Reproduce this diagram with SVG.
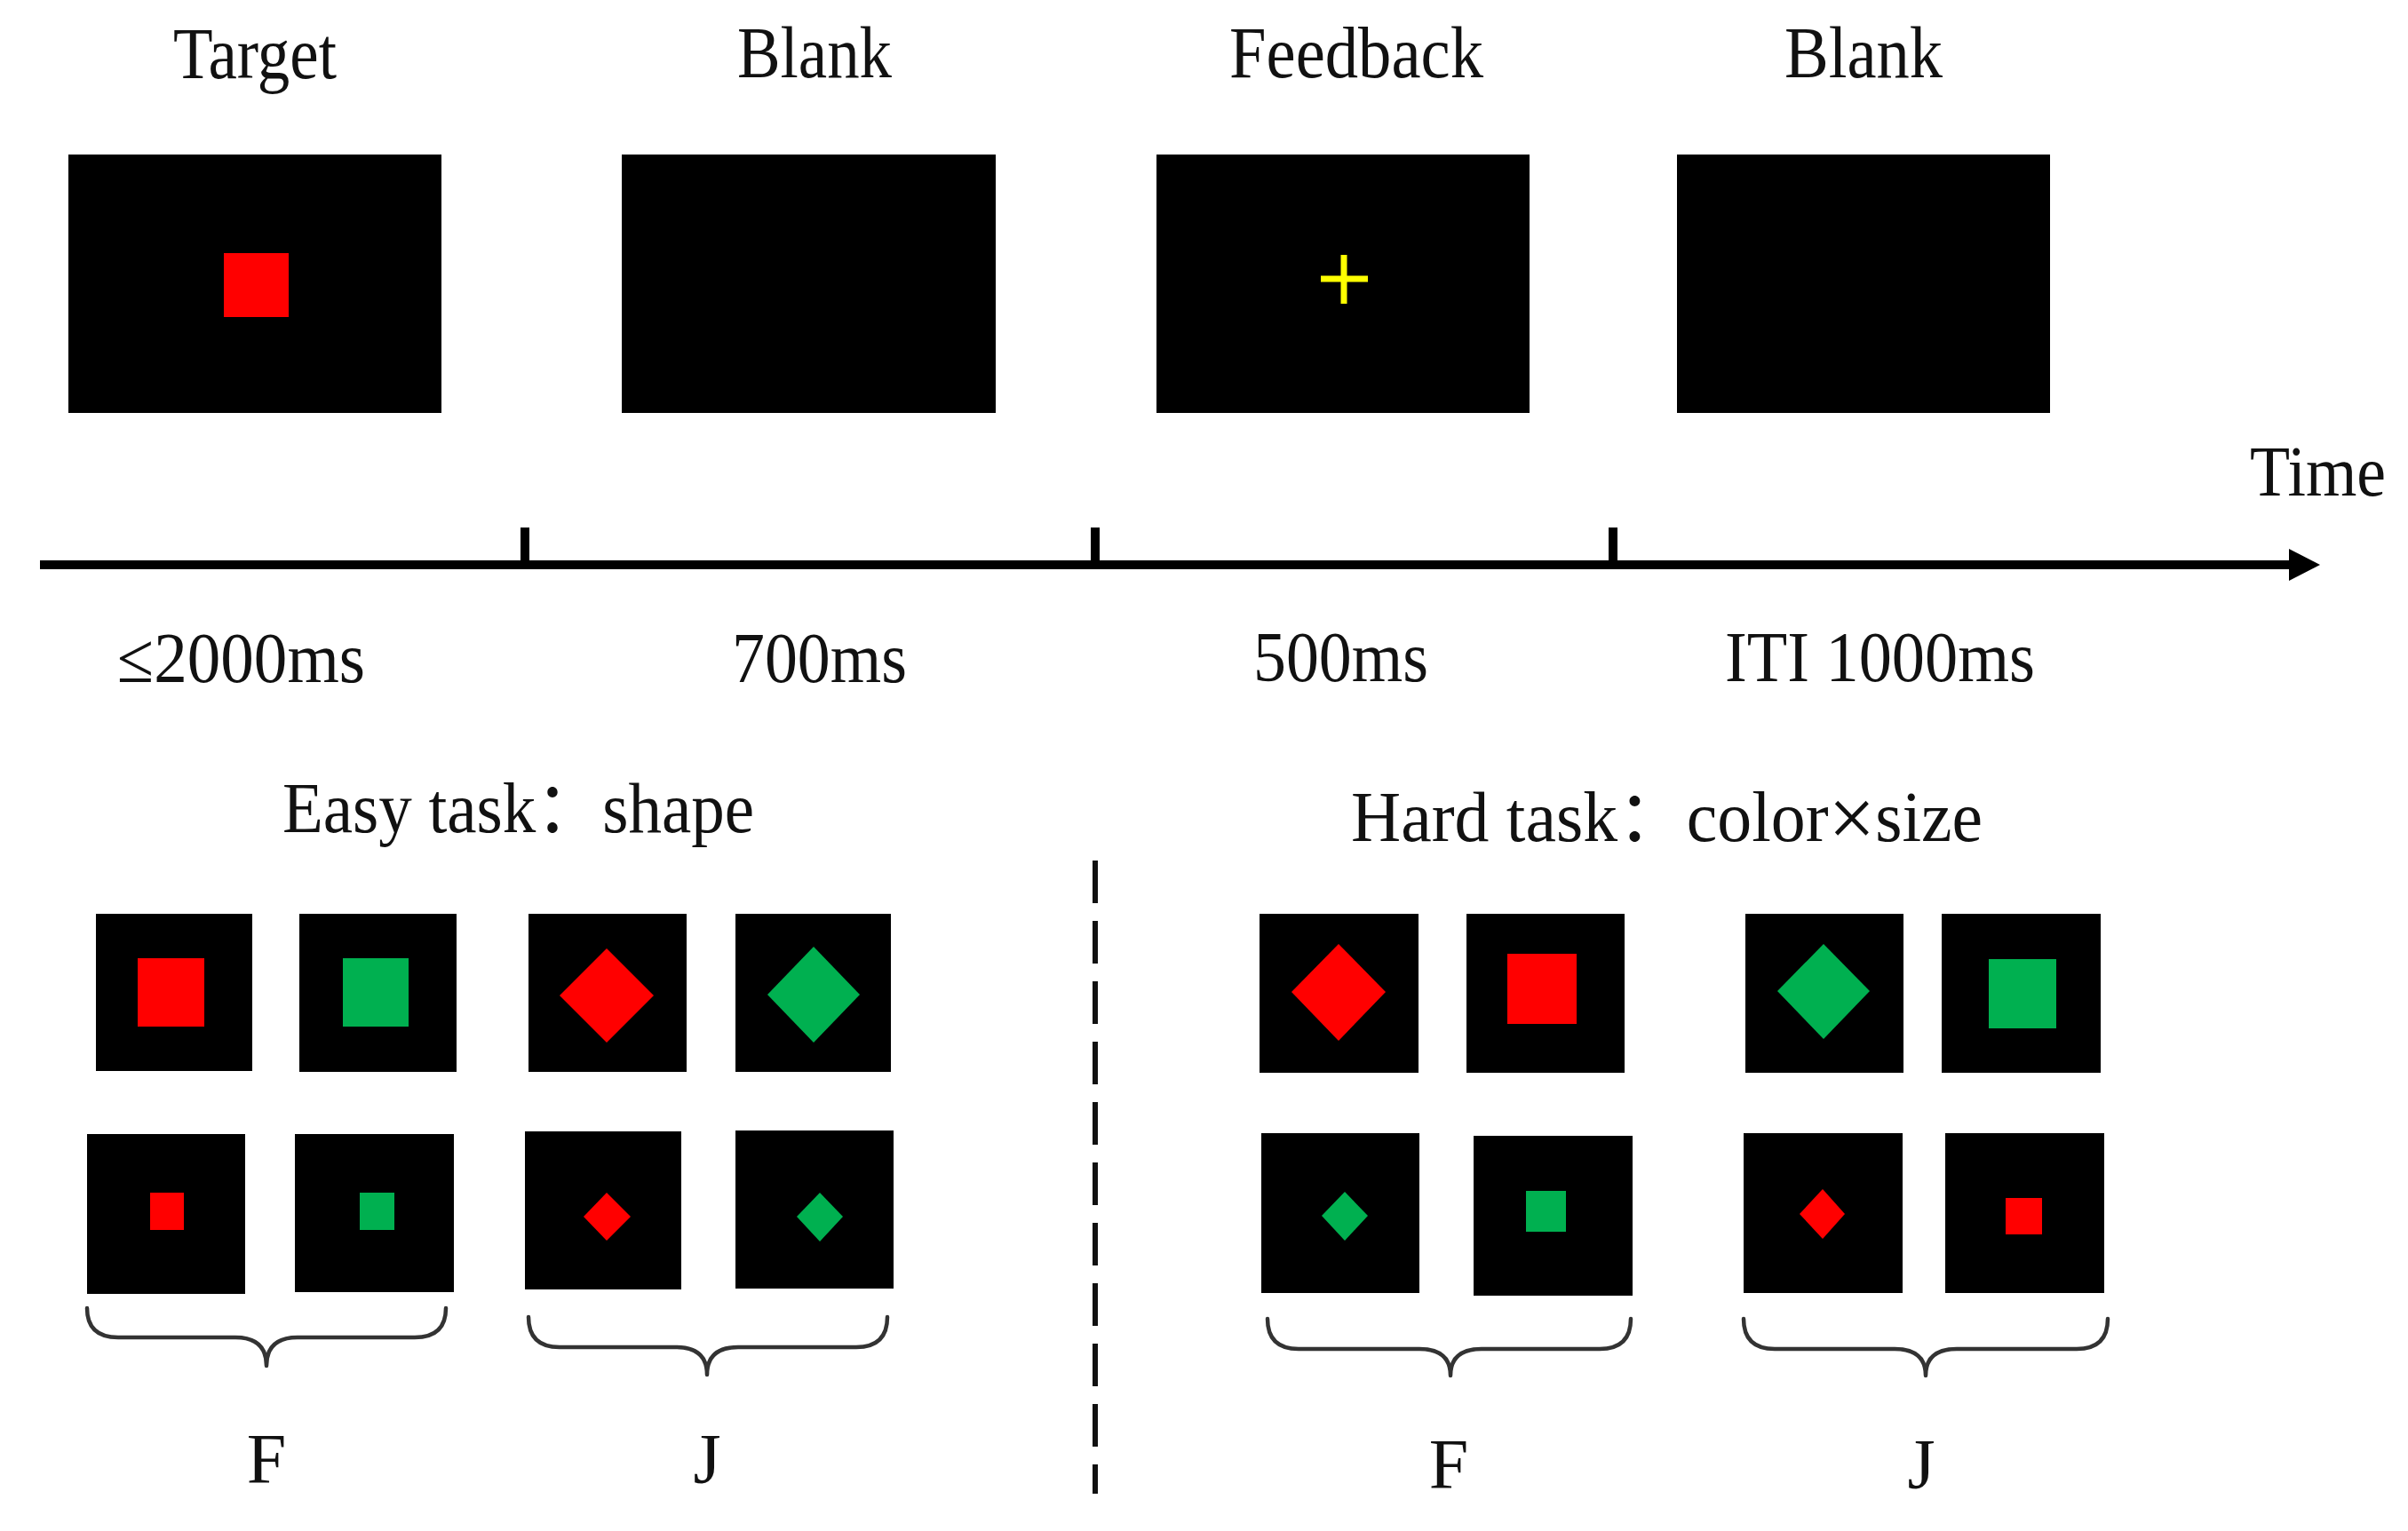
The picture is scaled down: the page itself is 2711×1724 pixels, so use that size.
<svg xmlns="http://www.w3.org/2000/svg" width="2711" height="1724" viewBox="0 0 2711 1724">
<style>
  .t { font-family: "Liberation Serif", "Times New Roman", "Noto Sans CJK SC", serif; fill: #111; }
  .h { font-size: 82px; }
  .m { font-size: 80px; }
  .x { font-size: 96px; font-weight: 300; }
  .scr { fill: #000; }
  .red { fill: #FF0000; }
  .grn { fill: #00B050; }
  .brace { fill: none; stroke: #333; stroke-width: 4.5; stroke-linecap: round; stroke-linejoin: round; }
  .axis { stroke: #000; stroke-width: 10; fill: none; }
  .tick { stroke: #000; stroke-width: 10; }
  .dash { stroke: #111; stroke-width: 6; stroke-dasharray: 48 20; fill: none; }
</style>
<defs>
  <marker id="arrow" markerUnits="userSpaceOnUse" markerWidth="36" markerHeight="38" refX="13" refY="19" orient="auto">
    <path d="M0,1 L35,19 L0,37 Z" fill="#000"/>
  </marker>
</defs>
<rect width="2711" height="1724" fill="#fff"/>

<!-- top titles -->
<g id="labels-top">
  <text class="t h" x="195" y="88" textLength="184" lengthAdjust="spacingAndGlyphs">Target</text>
  <text class="t h" x="830" y="87" textLength="174" lengthAdjust="spacingAndGlyphs">Blank</text>
  <text class="t h" x="1384" y="87" textLength="286" lengthAdjust="spacingAndGlyphs">Feedback</text>
  <text class="t h" x="2009" y="87" textLength="178" lengthAdjust="spacingAndGlyphs">Blank</text>
  <text class="t m" x="2533" y="558" textLength="153" lengthAdjust="spacingAndGlyphs">Time</text>
</g>

<!-- top screens -->
<g id="screen-target">
  <rect class="scr" x="77" y="174" width="420" height="291"/>
  <rect class="red" x="252" y="285" width="73" height="72"/>
</g>
<g id="screen-blank1">
  <rect class="scr" x="700" y="174" width="421" height="291"/>
</g>
<g id="screen-feedback">
  <rect class="scr" x="1302" y="174" width="420" height="291"/>
  <path d="M1513,287 V342 M1487,314 H1540" stroke="#FFFF00" stroke-width="7" fill="none"/>
</g>
<g id="screen-blank2">
  <rect class="scr" x="1888" y="174" width="420" height="291"/>
</g>

<!-- connectors: timeline -->
<g id="connectors">
  <line class="axis" x1="45" y1="636" x2="2590" y2="636" marker-end="url(#arrow)"/>
  <line class="tick" x1="591" y1="594" x2="591" y2="636"/>
  <line class="tick" x1="1233" y1="594" x2="1233" y2="636"/>
  <line class="tick" x1="1816" y1="594" x2="1816" y2="636"/>
  <line class="dash" x1="1233" y1="969" x2="1233" y2="1682"/>
  <path class="brace" d="M98,1473 Q98,1506 133,1506 L265,1506 Q300,1506 300,1538 Q300,1506 335,1506 L467,1506 Q502,1506 502,1473"/>
  <path class="brace" d="M595,1483 Q595,1517 630,1517 L761,1517 Q796,1517 796,1548 Q796,1517 831,1517 L964,1517 Q999,1517 999,1483"/>
  <path class="brace" d="M1427,1485 Q1427,1519 1462,1519 L1598,1519 Q1633,1519 1633,1549 Q1633,1519 1668,1519 L1801,1519 Q1836,1519 1836,1485"/>
  <path class="brace" d="M1963,1485 Q1963,1519 1998,1519 L2133,1519 Q2168,1519 2168,1549 Q2168,1519 2203,1519 L2338,1519 Q2373,1519 2373,1485"/>
</g>

<!-- time labels -->
<g id="labels-time">
  <text class="t m" x="132" y="768" textLength="279" lengthAdjust="spacingAndGlyphs">≤2000ms</text>
  <text class="t m" x="824" y="768" textLength="197" lengthAdjust="spacingAndGlyphs">700ms</text>
  <text class="t m" x="1411" y="767" textLength="197" lengthAdjust="spacingAndGlyphs">500ms</text>
  <text class="t m" x="1942" y="767" textLength="349" lengthAdjust="spacingAndGlyphs">ITI 1000ms</text>
</g>

<!-- task labels -->
<g id="labels-task">
  <text class="t m" x="318" y="937" textLength="531" lengthAdjust="spacingAndGlyphs">Easy task：shape</text>
  <text class="t m" x="1521" y="947" textLength="711" lengthAdjust="spacingAndGlyphs">Hard task：color<tspan class="x" dy="6">×</tspan><tspan dy="-6">size</tspan></text>
  <text class="t m" x="300" y="1670" text-anchor="middle">F</text>
  <text class="t m" x="796" y="1670" text-anchor="middle">J</text>
  <text class="t m" x="1631" y="1676" text-anchor="middle">F</text>
  <text class="t m" x="2163" y="1676" text-anchor="middle">J</text>
</g>

<!-- easy task stimuli -->
<g id="easy-1"><rect class="scr" x="108" y="1029" width="176" height="177"/><rect class="red" x="155" y="1079" width="75" height="77"/></g>
<g id="easy-2"><rect class="scr" x="337" y="1029" width="177" height="178"/><rect class="grn" x="386" y="1079" width="74" height="77"/></g>
<g id="easy-3"><rect class="scr" x="595" y="1029" width="178" height="178"/><polygon class="red" points="683,1068 736,1121 683,1174 630,1121"/></g>
<g id="easy-4"><rect class="scr" x="828" y="1029" width="175" height="178"/><polygon class="grn" points="916,1066 968,1120 916,1174 864,1120"/></g>
<g id="easy-5"><rect class="scr" x="98" y="1277" width="178" height="180"/><rect class="red" x="169" y="1343" width="38" height="42"/></g>
<g id="easy-6"><rect class="scr" x="332" y="1277" width="179" height="178"/><rect class="grn" x="405" y="1343" width="39" height="42"/></g>
<g id="easy-7"><rect class="scr" x="591" y="1274" width="176" height="178"/><polygon class="red" points="683,1343 710,1370 683,1397 657,1370"/></g>
<g id="easy-8"><rect class="scr" x="828" y="1273" width="178" height="178"/><polygon class="grn" points="923,1343 949,1370 923,1398 897,1370"/></g>

<!-- hard task stimuli -->
<g id="hard-1"><rect class="scr" x="1418" y="1029" width="179" height="179"/><polygon class="red" points="1507,1063 1560,1117 1507,1172 1454,1117"/></g>
<g id="hard-2"><rect class="scr" x="1651" y="1029" width="178" height="179"/><rect class="red" x="1697" y="1074" width="78" height="79"/></g>
<g id="hard-3"><rect class="scr" x="1965" y="1029" width="178" height="179"/><polygon class="grn" points="2053,1063 2105,1116 2053,1170 2001,1116"/></g>
<g id="hard-4"><rect class="scr" x="2186" y="1029" width="179" height="179"/><rect class="grn" x="2239" y="1080" width="76" height="78"/></g>
<g id="hard-5"><rect class="scr" x="1420" y="1276" width="178" height="180"/><polygon class="grn" points="1514,1342 1540,1369 1514,1397 1488,1369"/></g>
<g id="hard-6"><rect class="scr" x="1659" y="1279" width="179" height="180"/><rect class="grn" x="1718" y="1341" width="45" height="46"/></g>
<g id="hard-7"><rect class="scr" x="1963" y="1276" width="179" height="180"/><polygon class="red" points="2052,1339 2077,1367 2052,1395 2026,1367"/></g>
<g id="hard-8"><rect class="scr" x="2190" y="1276" width="179" height="180"/><rect class="red" x="2258" y="1349" width="41" height="41"/></g>
</svg>
